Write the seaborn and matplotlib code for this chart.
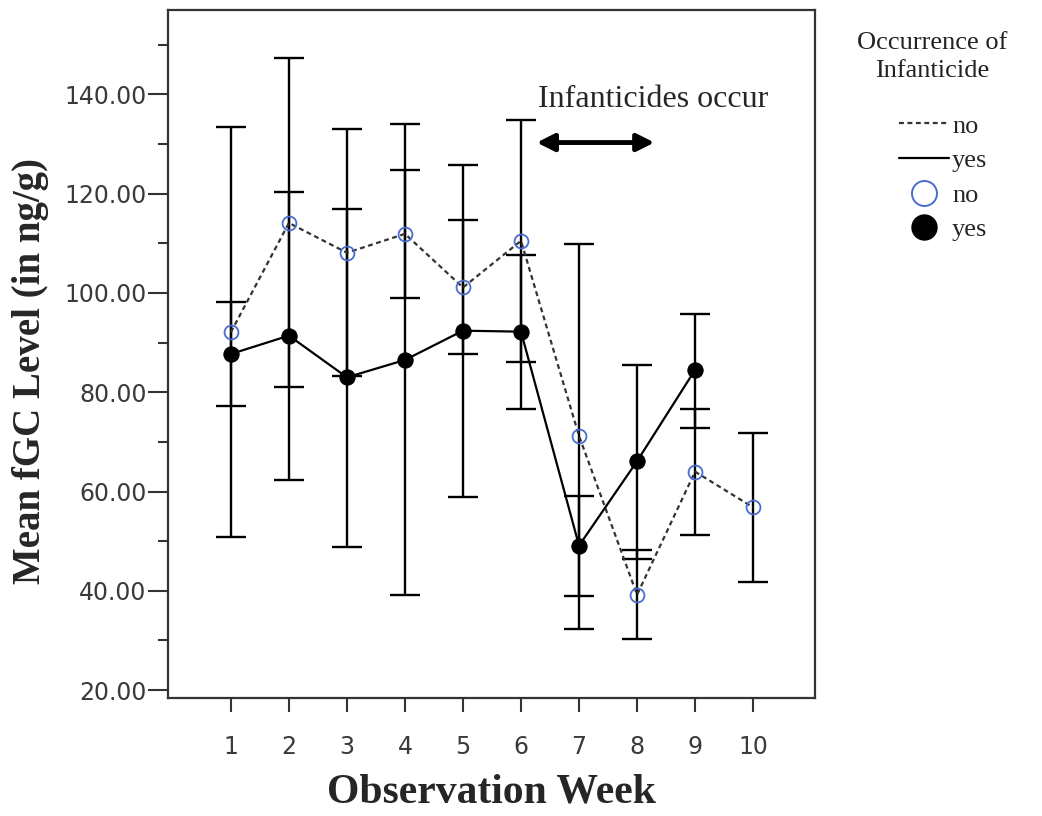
import seaborn as sns
import matplotlib.pyplot as plt
import pandas as pd
from matplotlib.lines import Line2D

# Dados (média e IC 95%)
weeks_no = [1, 2, 3, 4, 5, 6, 7, 8, 9, 10]
no_mean = [92.1, 114.1, 108.1, 111.9, 101.1, 110.5, 71.2, 39.2, 64.0, 56.8]
no_low = [50.8, 81.0, 83.2, 99.0, 87.7, 86.1, 32.4, 30.2, 51.3, 41.7]
no_high = [133.5, 147.4, 133.0, 124.8, 114.6, 134.8, 109.8, 48.2, 76.6, 71.8]

weeks_yes = [1, 2, 3, 4, 5, 6, 7, 8, 9]
yes_mean = [87.7, 91.4, 83.0, 86.5, 92.4, 92.2, 49.1, 66.1, 84.5]
yes_low = [77.3, 62.3, 48.9, 39.1, 58.9, 76.6, 38.9, 46.5, 72.8]
yes_high = [98.2, 120.3, 116.9, 134.0, 125.8, 107.6, 59.1, 85.5, 95.8]

week_ticks = list(range(1, 11))
y_ticks = [20, 40, 60, 80, 100, 120, 140]
y_minor = [30, 50, 70, 90, 110, 130, 150]

df_no = pd.DataFrame({'week': weeks_no, 'mean': no_mean, 'low': no_low, 'high': no_high})
df_yes = pd.DataFrame({'week': weeks_yes, 'mean': yes_mean, 'low': yes_low, 'high': yes_high})

blue = '#4a6cd0'
serif = 'Liberation Serif'

sns.set_style('ticks')
fig = plt.figure(figsize=(10.42, 8.16), dpi=100)
ax = fig.add_axes([168 / 1042, 1 - 698 / 816, (815 - 168) / 1042, (698 - 10) / 816])

# barras de erro (IC)
for d in (df_no, df_yes):
    ax.errorbar(d['week'], d['mean'], yerr=[d['mean'] - d['low'], d['high'] - d['mean']],
                fmt='none', ecolor='black', elinewidth=1.7, capsize=10.5, capthick=1.7, zorder=2)

# linhas com marcadores
sns.lineplot(data=df_no, x='week', y='mean', ax=ax, color='#333333', linewidth=1.6,
             linestyle=(0, (2.2, 1.6)), marker='o', markersize=10, markerfacecolor='none',
             markeredgecolor=blue, markeredgewidth=1.3, zorder=3)
sns.lineplot(data=df_yes, x='week', y='mean', ax=ax, color='black', linewidth=1.6,
             marker='o', markersize=11, markerfacecolor='black', markeredgecolor='black', zorder=3)

# anotação
ax.annotate('', xy=(8.3, 130.3), xytext=(6.27, 130.3),
            arrowprops=dict(arrowstyle='<|-|>', lw=3.5, color='black', mutation_scale=26,
                            shrinkA=0, shrinkB=0))
ax.text(8.27, 137.4, 'Infanticides occur', ha='center', va='baseline',
        fontsize=23, family=serif)

ax.set_xlim(-0.084, 11.067)
ax.set_ylim(18.4, 157.0)
ax.set_xticks(week_ticks)
ax.set_xticklabels([str(w) for w in week_ticks])
ax.set_yticks(y_ticks)
ax.set_yticklabels([f'{v:.2f}' for v in y_ticks])
ax.set_yticks(y_minor, minor=True)

for s in ax.spines.values():
    s.set_visible(True)
    s.set_linewidth(1.6)
    s.set_color('#333333')

ax.tick_params(axis='y', which='major', length=14.4, width=1.5, color='#333333',
               labelsize=17, labelcolor='#3a3a3a', pad=1)
ax.tick_params(axis='y', which='minor', length=7.2, width=1.5, color='#333333')
ax.tick_params(axis='x', which='major', length=10, width=1.5, color='#333333',
               labelsize=17, labelcolor='#3a3a3a', pad=17)

ax.set_xlabel('Observation Week', fontsize=30, fontweight='bold', family=serif, labelpad=10)
ax.set_ylabel('Mean fGC Level (in ng/g)', fontsize=28, fontweight='bold', family=serif)
ax.yaxis.set_label_coords(-0.184, 0.475)

# legenda
fig.text(932 / 1042, 1 - 57 / 816, 'Occurrence of\nInfanticide', ha='center', va='center',
         fontsize=19, family=serif, color='#222222', linespacing=1.3, multialignment='center')
handles = [
    Line2D([], [], color='#333333', linewidth=1.6, linestyle=(0, (2.2, 1.6))),
    Line2D([], [], color='black', linewidth=1.6),
    Line2D([], [], linestyle='none', marker='o', markersize=18, markerfacecolor='none',
           markeredgecolor=blue, markeredgewidth=1.4),
    Line2D([], [], linestyle='none', marker='o', markersize=18, markerfacecolor='black',
           markeredgecolor='black'),
]
leg = fig.legend(handles, ['no', 'yes', 'no', 'yes'],
                 loc='upper left', bbox_to_anchor=(886 / 1042, 1 - 101 / 816), frameon=False,
                 prop={'family': serif, 'size': 19},
                 handlelength=1.9, handletextpad=0.1, labelspacing=0.42, borderpad=0)

plt.savefig('out.png', dpi=100)
